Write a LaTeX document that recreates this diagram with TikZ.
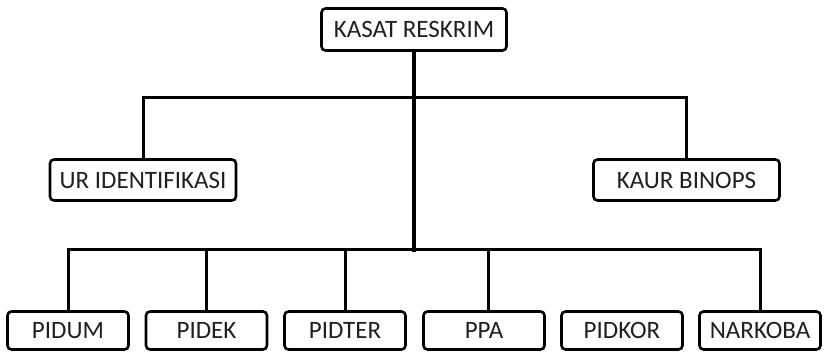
\documentclass[tikz,border=0pt]{standalone}
\usepackage{fontspec}
\setmainfont{Carlito}
\definecolor{txt}{HTML}{231F20}
\begin{document}
\begin{tikzpicture}[x=1pt,y=-1pt,
  box/.style={draw=black,line width=2.6pt,rounded corners=4pt,fill=white,
    inner sep=0pt,text=txt,font=\fontsize{25}{25}\selectfont},
  topbox/.style={box,minimum width=185pt,minimum height=42pt},
  midbox/.style={box,minimum width=186pt,minimum height=41pt},
  lowbox/.style={box,minimum width=121pt,minimum height=38pt},
  link/.style={line width=3pt,line cap=rect}]
\useasboundingbox (0,0) rectangle (824,352);
\node[topbox] (kasat) at (414,29.5) {KASAT RESKRIM};
\node[midbox] (ur) at (143,180) {UR IDENTIFIKASI};
\node[midbox] (kaur) at (686.5,180) {KAUR BINOPS};
\node[lowbox] (pidum) at (68,330.5) {PIDUM};
\node[lowbox] (pidek) at (206.5,330.5) {PIDEK};
\node[lowbox] (pidter) at (345,330.5) {PIDTER};
\node[lowbox] (ppa) at (484,330.5) {PPA};
\node[lowbox] (pidkor) at (622,330.5) {PIDKOR};
\node[lowbox] (narkoba) at (760,330.5) {NARKOBA};
\coordinate (hb) at (414,98);
\coordinate (lb) at (414,250);
\draw[link,line width=4pt] (kasat.south) -- (lb);
\draw[link] (ur.north) |- (hb) -| (kaur.north);
\draw[link] (pidum.north) |- (lb) -| (narkoba.north);
\draw[link] (pidek.north) -- (pidek.north |- lb);
\draw[link] (pidter.north) -- (pidter.north |- lb);
\draw[link] ([xshift=4pt]ppa.north) -- ([xshift=4pt]ppa.north |- lb);
\end{tikzpicture}
\end{document}
